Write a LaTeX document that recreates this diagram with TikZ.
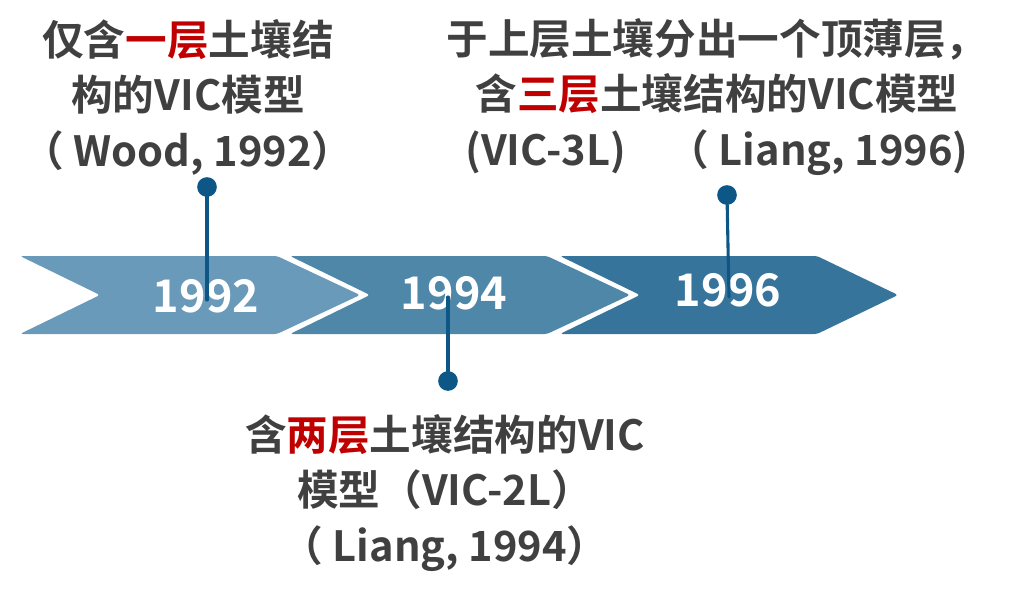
\documentclass[tikz,border=0pt]{standalone}
\usepackage{fontspec}
\newfontfamily\cjk{Noto Sans CJK SC}[BoldFont={Noto Sans CJK SC Bold}]

\begin{document}
\begin{tikzpicture}[x=0.025cm,y=-0.025cm]
	\definecolor{color1}{HTML}{6A9AB9}
	\definecolor{color2}{HTML}{4F87A9}
	\definecolor{color3}{HTML}{37749B}
	\definecolor{pincolor}{HTML}{0D5787}
	\definecolor{textgray}{HTML}{404040}
	\definecolor{textred}{HTML}{C00000}
	\tikzset{yearlabel/.style={text=white, inner sep=0pt, font=\cjk\bfseries\fontsize{32}{38}\selectfont},
		note/.style={text=textgray, inner sep=0pt, align=center, font=\cjk\bfseries\fontsize{29.6}{39.5}\selectfont},
		pin/.style={circle, fill=pincolor, inner sep=0pt, minimum size=14pt},
		pinline/.style={draw=pincolor, line width=2.2pt, line cap=round}}
	\useasboundingbox (0,0) rectangle (1033,600);
	%% Chevrons ------
	\fill[color1, rounded corners=2pt] (20,256) -- (277,256) -- (360,295) -- (277,334) -- (20,334) -- (100,295) -- cycle;
	\fill[color2, rounded corners=2pt] (290,256) -- (547,256) -- (630,295) -- (547,334) -- (290,334) -- (370,295) -- cycle;
	\fill[color3, rounded corners=2pt] (560,256) -- (817,256) -- (898,295) -- (817,334) -- (560,334) -- (640,295) -- cycle;
	%% Years ---------
	\node[yearlabel] (y1992) at (206,296) {1992};
	\node[yearlabel] (y1994) at (454,293) {1994};
	\node[yearlabel] (y1996) at (728,290) {1996};
	%% Pins ----------
	\node[pin] (p1992) at (207,187) {};
	\node[pin] (p1994) at (448,381) {};
	\node[pin] (p1996) at (727,195) {};
	\coordinate (e1992) at (207,300);
	\coordinate (e1994) at (448,297);
	\coordinate (e1996) at (729,297);
	\draw[pinline] (p1992.center) -- (e1992);
	\draw[pinline] (p1994.center) -- (e1994);
	\draw[pinline] (p1996.center) -- (e1996);
	%% Notes ---------
	\node[note] (n1992) at (188,97) {仅含\textcolor{textred}{一层}土壤结\\构的VIC模型\\（ Wood, 1992）};
	\node[note] (n1994) at (445,493) {含\textcolor{textred}{两层}土壤结构的VIC\\模型（VIC-2L）\\（ Liang, 1994）};
	\node[note] (n1996) at (717,97) {于上层土壤分出一个顶薄层，\\含\textcolor{textred}{三层}土壤结构的VIC模型\\(VIC-3L)\quad（ Liang, 1996)};
\end{tikzpicture}
\end{document}
